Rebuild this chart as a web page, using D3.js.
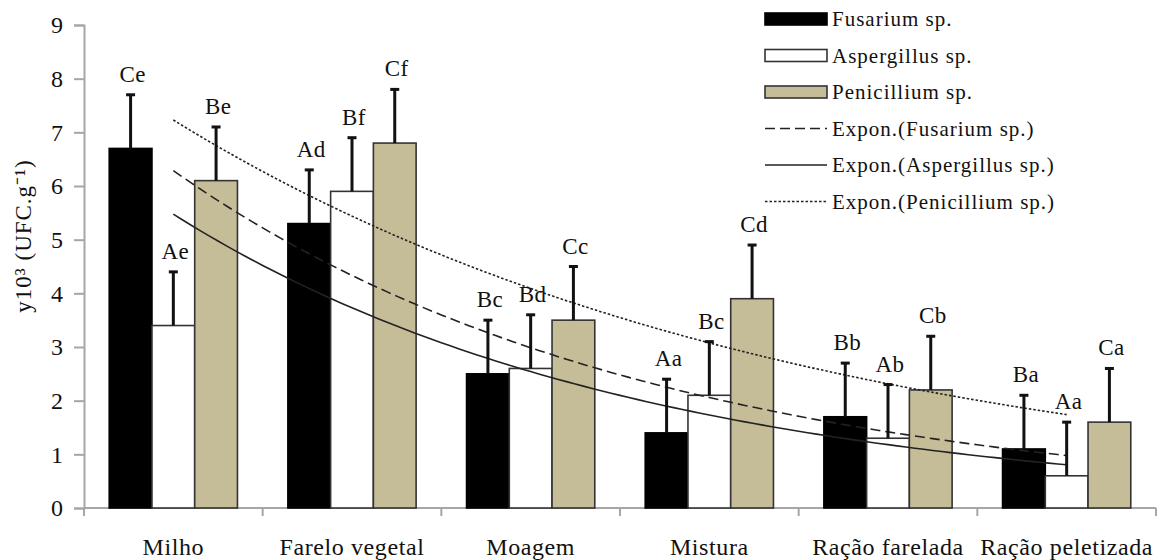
<!DOCTYPE html>
<html lang="pt">
<head>
  <meta charset="UTF-8">
  <title>Fungos por etapa</title>
  <script src="https://d3js.org/d3.v7.min.js"></script>
  <style>
    body { margin: 0; background: #fff; }
    #chart text { font-family: 'Liberation Serif', 'Times New Roman', serif; fill: #111; }
    .tick-label { font-size: 24px; }
    .cat-label { font-size: 24px; letter-spacing: 0.6px; }
    .bar-label { font-size: 23px; letter-spacing: 0.4px; }
    .legend-text { font-size: 21px; letter-spacing: 1px; }
    .y-title { font-size: 23px; letter-spacing: 1px; }
  </style>
</head>
<body>
<svg id="chart" width="1157" height="560"></svg>
<script>
// categories (processing steps)
const categories = ["Milho", "Farelo vegetal", "Moagem", "Mistura", "Ração farelada", "Ração peletizada"];
const seriesNames = ["Fusarium sp.", "Aspergillus sp.", "Penicillium sp."];

// mean counts, y10^3 UFC/g
const fusarium    = [6.7, 5.3, 2.5, 1.4, 1.7, 1.1];
const aspergillus = [3.4, 5.9, 2.6, 2.1, 1.3, 0.6];
const penicillium = [6.1, 6.8, 3.5, 3.9, 2.2, 1.6];

// upper error (same for every bar)
const fusariumErr    = [1, 1, 1, 1, 1, 1];
const aspergillusErr = [1, 1, 1, 1, 1, 1];
const penicilliumErr = [1, 1, 1, 1, 1, 1];

// letters above the bars
const fusariumLetters    = ["Ce", "Ad", "Bc", "Aa", "Bb", "Ba"];
const aspergillusLetters = ["Ae", "Bf", "Bd", "Bc", "Ab", "Aa"];
const penicilliumLetters = ["Be", "Cf", "Cc", "Cd", "Cb", "Ca"];

const yTicks = [0, 1, 2, 3, 4, 5, 6, 7, 8, 9];

const colors = ["#000000", "#ffffff", "#c4bd97"];
const trendDash = ["10,5", null, "2.5,2"];

const series = [
  { name: seriesNames[0], values: fusarium, err: fusariumErr, letters: fusariumLetters },
  { name: seriesNames[1], values: aspergillus, err: aspergillusErr, letters: aspergillusLetters },
  { name: seriesNames[2], values: penicillium, err: penicilliumErr, letters: penicilliumLetters }
];

const margin = { top: 25, right: 1, bottom: 52, left: 84 };
const width = 1157, height = 560;
const svg = d3.select("#chart");

const x = d3.scaleBand().domain(categories).range([margin.left, width - margin.right]);
const xSub = d3.scaleBand().domain(d3.range(3)).range([0, x.bandwidth()]).paddingOuter(0.59);
const y = d3.scaleLinear().domain([0, 9]).range([height - margin.bottom, margin.top]);

// y axis
const yAxis = svg.append("g")
  .attr("transform", `translate(${margin.left},0)`)
  .call(d3.axisLeft(y).tickValues(yTicks).tickSize(10).tickPadding(11));
yAxis.attr("font-family", null).attr("font-size", null);
yAxis.select(".domain").attr("stroke", "#a6a6a6").attr("stroke-width", 2);
yAxis.selectAll(".tick line").attr("stroke", "#a6a6a6").attr("stroke-width", 2);
yAxis.selectAll(".tick text").attr("class", "tick-label").attr("fill", null);

// x axis: baseline + boundary ticks
const y0 = y(0);
svg.append("line")
  .attr("x1", margin.left).attr("x2", width - margin.right)
  .attr("y1", y0).attr("y2", y0)
  .attr("stroke", "#a6a6a6").attr("stroke-width", 2);
const bounds = categories.map(c => x(c)).concat([x(categories[categories.length - 1]) + x.bandwidth()]);
svg.selectAll(".xtick").data(bounds).enter().append("line")
  .attr("x1", d => d).attr("x2", d => d)
  .attr("y1", y0).attr("y2", y0 + 8)
  .attr("stroke", "#a6a6a6").attr("stroke-width", 2);
svg.selectAll(".cat-label").data(categories).enter().append("text")
  .attr("class", "cat-label")
  .attr("x", d => x(d) + x.bandwidth() / 2)
  .attr("y", 555)
  .attr("text-anchor", "middle")
  .text(d => d);

// y axis title
svg.append("text")
  .attr("class", "y-title")
  .attr("transform", "translate(31,236) rotate(-90)")
  .attr("text-anchor", "middle")
  .text("y10³ (UFC.g⁻¹)");

// bars
series.forEach((s, si) => {
  const g = svg.append("g");
  const bx = c => x(c) + xSub(si);
  g.selectAll("rect").data(categories).enter().append("rect")
    .attr("x", c => bx(c))
    .attr("y", (c, i) => y(s.values[i]))
    .attr("width", xSub.bandwidth())
    .attr("height", (c, i) => y0 - y(s.values[i]))
    .attr("fill", colors[si])
    .attr("stroke", si === 0 ? "#000" : "#333")
    .attr("stroke-width", 1.6);
});

// trend lines (exponential fit of each series, Excel-style)
const xIdx = d3.scaleLinear().domain([1, 6])
  .range([x(categories[0]) + x.bandwidth() / 2, x(categories[5]) + x.bandwidth() / 2]);
series.forEach((s, si) => {
  const xs = s.values.map((v, i) => i + 1);
  const ln = s.values.map(v => Math.log(v));
  const mx = d3.mean(xs), ml = d3.mean(ln);
  const b = d3.sum(xs, (xv, i) => (xv - mx) * (ln[i] - ml)) / d3.sum(xs, xv => (xv - mx) ** 2);
  const a = Math.exp(ml - b * mx);
  const pts = d3.range(1, 6.001, 0.05).map(t => [xIdx(t), y(a * Math.exp(b * t))]);
  svg.append("path")
    .attr("d", d3.line()(pts))
    .attr("fill", "none")
    .attr("stroke", "#222")
    .attr("stroke-width", 1.6)
    .attr("stroke-dasharray", trendDash[si]);
});

// error bars + letters
series.forEach((s, si) => {
  const g = svg.append("g");
  const cx = c => x(c) + xSub(si) + xSub.bandwidth() / 2;
  categories.forEach((c, i) => {
    const top = y(s.values[i] + s.err[i]);
    g.append("line")
      .attr("x1", cx(c)).attr("x2", cx(c))
      .attr("y1", y(s.values[i])).attr("y2", top)
      .attr("stroke", "#111").attr("stroke-width", 3);
    g.append("line")
      .attr("x1", cx(c) - 4.5).attr("x2", cx(c) + 4.5)
      .attr("y1", top).attr("y2", top)
      .attr("stroke", "#111").attr("stroke-width", 3);
    g.append("text")
      .attr("class", "bar-label")
      .attr("x", cx(c) + 2)
      .attr("y", top - 13)
      .attr("text-anchor", "middle")
      .text(s.letters[i]);
  });
});

// legend
const legendRows = seriesNames.concat(seriesNames.map(n => `Expon.(${n})`));
const lg = svg.append("g").attr("transform", "translate(765,0)");
legendRows.forEach((name, i) => {
  const cy = 19 + i * 36.5;
  if (i < 3) {
    lg.append("rect")
      .attr("x", 0).attr("y", cy - 6)
      .attr("width", 62).attr("height", 12)
      .attr("fill", colors[i])
      .attr("stroke", i === 0 ? "#000" : "#333")
      .attr("stroke-width", 1.6);
  } else {
    lg.append("line")
      .attr("x1", 0).attr("x2", 62)
      .attr("y1", cy).attr("y2", cy)
      .attr("stroke", "#222").attr("stroke-width", 1.6)
      .attr("stroke-dasharray", trendDash[i - 3]);
  }
  lg.append("text")
    .attr("class", "legend-text")
    .attr("x", 67)
    .attr("y", cy + 7)
    .text(name);
});
</script>
</body>
</html>
